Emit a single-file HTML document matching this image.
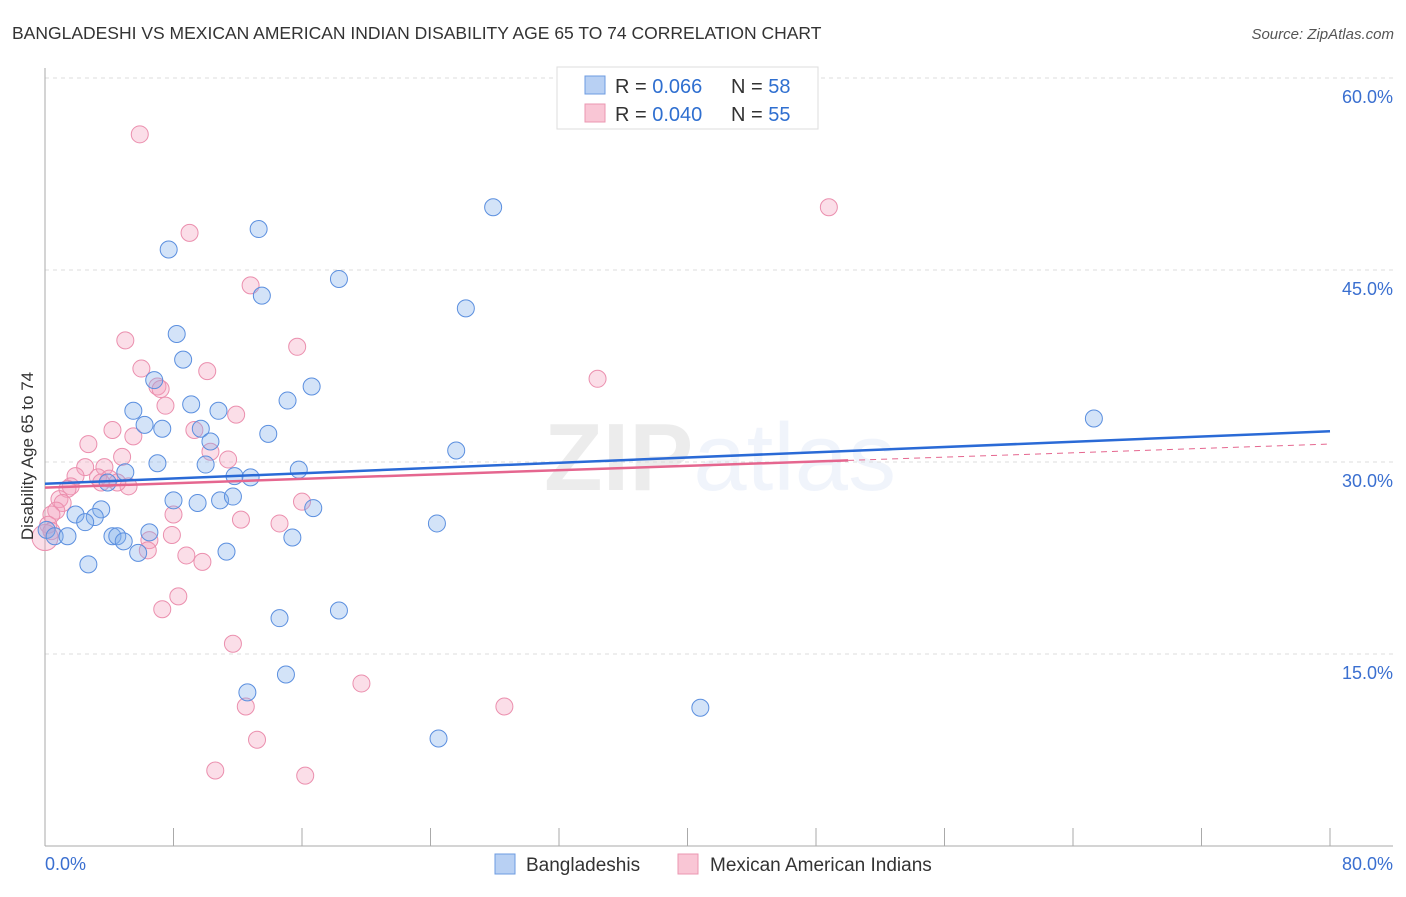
<!DOCTYPE html>
<html><head><meta charset="utf-8"><style>
body{margin:0;background:#fff;font-family:"Liberation Sans",sans-serif;}
svg text{font-family:"Liberation Sans",sans-serif;}
</style></head><body>
<svg id="chart" width="1406" height="892" xmlns="http://www.w3.org/2000/svg">
<text x="12" y="39" font-size="17.5" fill="#333">BANGLADESHI VS MEXICAN AMERICAN INDIAN DISABILITY AGE 65 TO 74 CORRELATION CHART</text>
<text x="1394" y="39" font-size="15" fill="#555" text-anchor="end" font-style="italic">Source: ZipAtlas.com</text>
<text x="720" y="490" font-size="96" text-anchor="middle" fill="#000" opacity="0.07" font-family="Liberation Serif"><tspan font-weight="bold">ZIP</tspan><tspan fill="#3a6fd0" opacity="1.5" font-family="Liberation Sans">atlas</tspan></text>
<g id="grid"></g>
<g id="axes"></g>
<g id="pts"></g>
<g id="lines"></g>
<text transform="translate(33,456) rotate(-90)" font-size="17" fill="#333" text-anchor="middle">Disability Age 65 to 74</text>
<g>
<rect x="557" y="67" width="261" height="62" fill="#fff" stroke="#ddd"/>
<rect x="585" y="76" width="20" height="18" fill="#b8d0f3" stroke="#6d9be0"/>
<rect x="585" y="104" width="20" height="18" fill="#f9c6d5" stroke="#eb97b1"/>
<text x="615" y="93" font-size="20" fill="#333">R = <tspan fill="#2f6fd0">0.066</tspan><tspan x="731">N = </tspan><tspan fill="#2f6fd0">58</tspan></text>
<text x="615" y="121" font-size="20" fill="#333">R = <tspan fill="#2f6fd0">0.040</tspan><tspan x="731">N = </tspan><tspan fill="#2f6fd0">55</tspan></text>
</g>
<g>
<rect x="495" y="854" width="20" height="20" fill="#b8d0f3" stroke="#6d9be0"/>
<text x="526" y="871" font-size="19" fill="#333">Bangladeshis</text>
<rect x="678" y="854" width="20" height="20" fill="#f9c6d5" stroke="#eb97b1"/>
<text x="710" y="871" font-size="19" fill="#333">Mexican American Indians</text>
</g>
</svg>
<script>
const xTicksLabels=["0.0%","80.0%"];
const yTickValues=[15,30,45,60];
const blueX=[27.9,13.3,7.7,18.3,13.5,26.2,8.2,8.6,6.8,16.6,15.1,9.1,5.5,10.8,6.2,7.3,9.7,10.3,13.9,25.6,7.0,10.0,5.0,11.8,12.8,15.8,10.9,11.7,8.0,9.5,65.3,16.7,3.5,1.9,3.1,2.5,24.4,0.1,0.6,1.4,4.2,4.5,4.9,6.5,5.8,15.4,11.3,2.7,14.6,18.3,15.0,12.6,40.8,24.5,3.9];
const blueY=[49.9,48.2,46.6,44.3,43.0,42.0,40.0,38.0,36.4,35.9,34.8,34.5,34.0,34.0,32.9,32.6,32.6,31.6,32.2,30.9,29.9,29.8,29.2,28.9,28.8,29.4,27.0,27.3,27.0,26.8,33.4,26.4,26.3,25.9,25.7,25.3,25.2,24.7,24.2,24.2,24.2,24.2,23.8,24.5,22.9,24.1,23.0,22.0,17.8,18.4,13.4,12.0,10.8,8.4,28.4];
const pinkX=[5.9,48.8,9.0,12.8,5.0,15.7,6.0,34.4,10.1,7.0,7.2,7.5,11.9,9.3,4.2,5.5,2.7,10.3,4.8,11.4,3.7,2.5,1.9,3.3,4.0,5.2,1.6,1.4,16.0,0.9,1.1,0.7,0.4,12.2,8.0,14.6,0.2,0.4,7.9,6.5,6.4,8.8,9.8,8.3,7.3,11.7,19.7,12.5,28.6,13.2,10.6,16.2,0.0,4.5,3.5];
const pinkY=[55.6,49.9,47.9,43.8,39.5,39.0,37.3,36.5,37.1,35.9,35.7,34.4,33.7,32.5,32.5,32.0,31.4,30.8,30.4,30.2,29.6,29.6,28.9,28.8,28.7,28.1,28.1,27.9,26.9,27.1,26.8,26.2,25.9,25.5,25.9,25.2,25.1,24.6,24.3,23.9,23.1,22.7,22.2,19.5,18.5,15.8,12.7,10.9,10.9,8.3,5.9,5.5,24.1,28.4,28.4];
const blueTrend=[28.3,32.4];
const pinkTrend=[28.0,31.4];
const pinkSolidEnd=50;
const X=v=>45+v*1285/80, Y=v=>846-v*12.8;
const NS="http://www.w3.org/2000/svg";
function mk(tag,attrs,parent){const e=document.createElementNS(NS,tag);for(const k in attrs)e.setAttribute(k,attrs[k]);parent.appendChild(e);return e;}
const grid=document.getElementById('grid'),axes=document.getElementById('axes'),pts=document.getElementById('pts'),lines=document.getElementById('lines');
yTickValues.forEach(v=>{
 const l=mk('line',{x1:45,x2:1393,y1:Y(v),y2:Y(v),stroke:'#ddd','stroke-dasharray':'4,4'},grid);
 
 
 const t=mk('text',{x:1393,y:Y(v)+25,'font-size':18,fill:'#3a6fd0','text-anchor':'end'},grid);
 t.textContent=v.toFixed(1)+'%';
 
 
});
mk('line',{x1:45,x2:45,y1:68,y2:846,stroke:'#aaa'},axes);
mk('line',{x1:45,x2:1393,y1:846,y2:846,stroke:'#aaa'},axes);
for(let i=0;i<=10;i++){const tk=mk('line',{x1:X(i*8),x2:X(i*8),y1:828,y2:846,stroke:'#aaa'},axes);
 
 }
const t0=mk('text',{x:45,y:870,'font-size':18,fill:'#3a6fd0'},axes);t0.textContent=xTicksLabels[0];


const t1=mk('text',{x:1393,y:870,'font-size':18,fill:'#3a6fd0','text-anchor':'end'},axes);t1.textContent=xTicksLabels[1];


pinkX.forEach((x,i)=>{const c=mk('circle',{cx:X(x),cy:Y(pinkY[i]),r:x<0.1?13:8.5,fill:'rgba(244,160,188,0.35)',stroke:'#eb8fae','stroke-width':1},pts);
 
 });
blueX.forEach((x,i)=>{const c=mk('circle',{cx:X(x),cy:Y(blueY[i]),r:8.5,fill:'rgba(130,175,235,0.35)',stroke:'#5b8fdf','stroke-width':1},pts);
 
 });
const bl=mk('line',{x1:X(0),y1:Y(blueTrend[0]),x2:X(80),y2:Y(blueTrend[1]),stroke:'#2a6ad6','stroke-width':2.5},lines);


const pm=pinkTrend[0]+(pinkTrend[1]-pinkTrend[0])*pinkSolidEnd/80;
const pl=mk('line',{x1:X(0),y1:Y(pinkTrend[0]),x2:X(pinkSolidEnd),y2:Y(pm),stroke:'#e5668f','stroke-width':2.5},lines);


const pd=mk('line',{x1:X(pinkSolidEnd),y1:Y(pm),x2:X(80),y2:Y(pinkTrend[1]),stroke:'#e5668f','stroke-width':1,'stroke-dasharray':'6,5'},lines);


</script>
</body></html>
